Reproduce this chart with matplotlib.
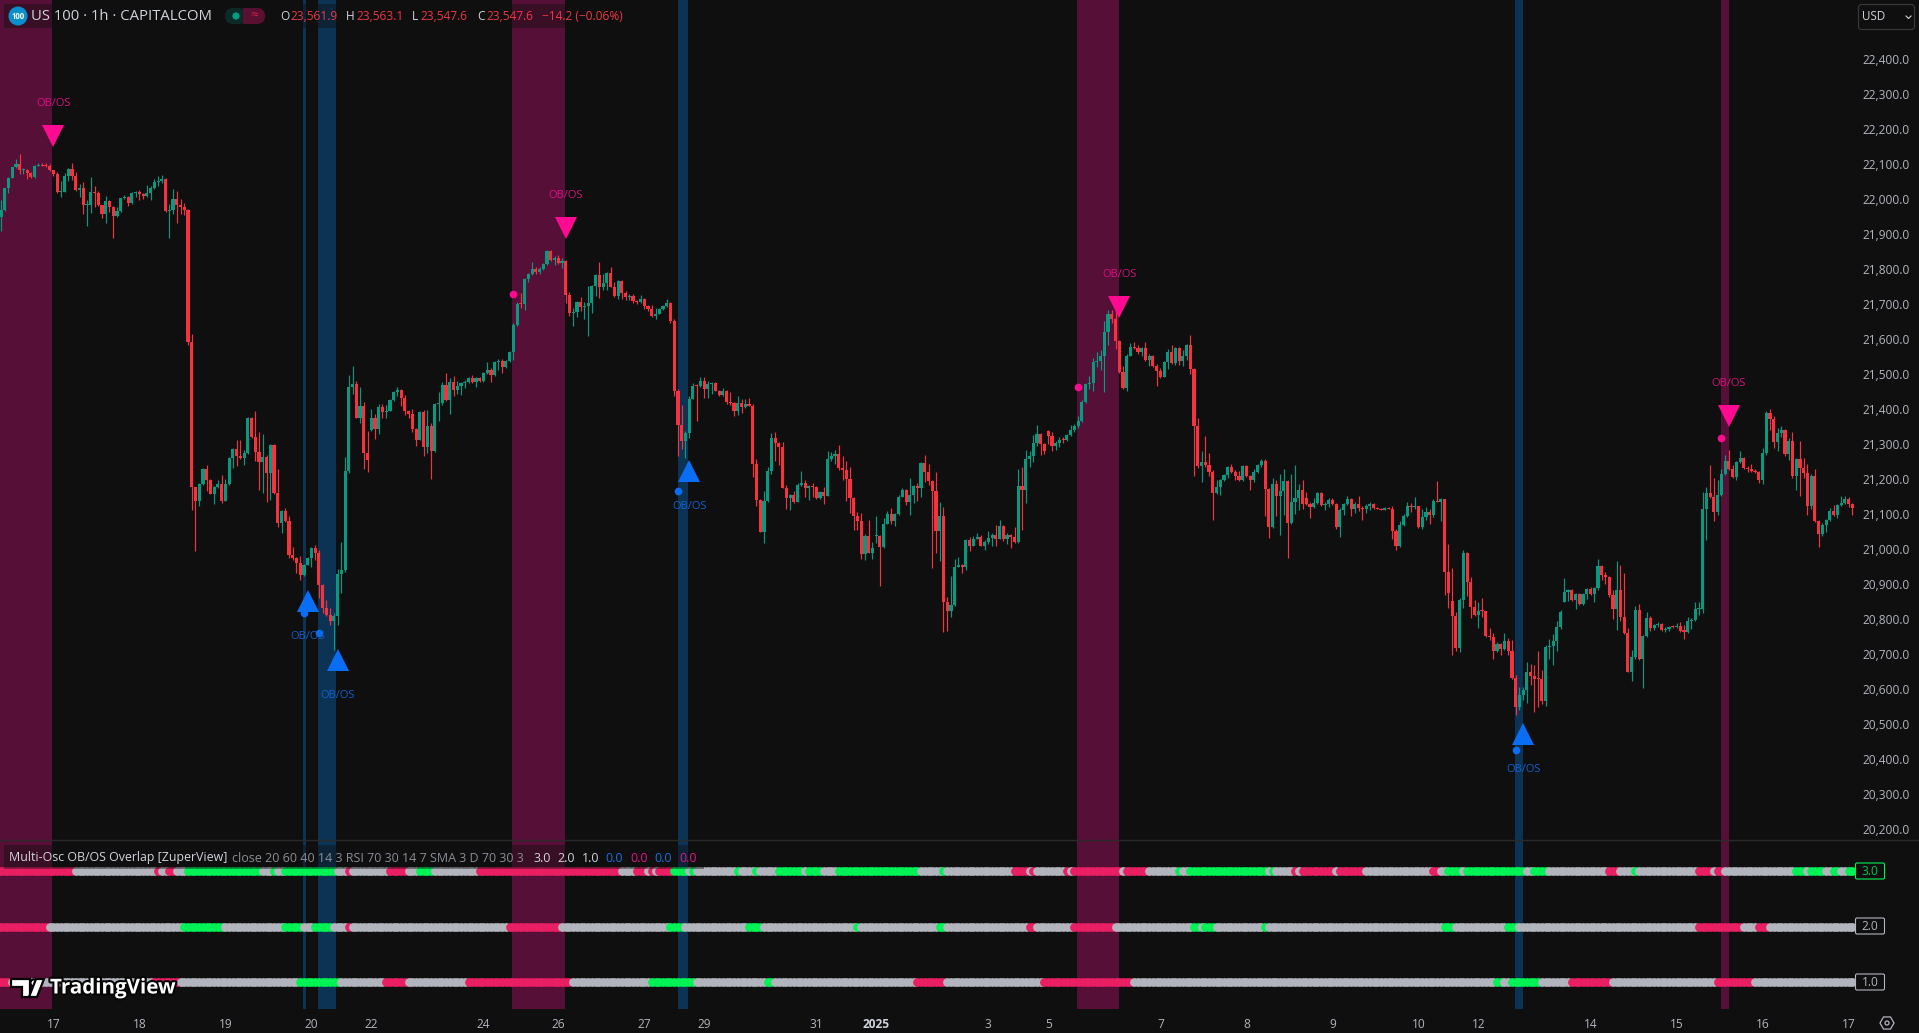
import matplotlib
matplotlib.use("Agg")
import matplotlib.pyplot as plt
from matplotlib.patches import Rectangle, Circle, FancyBboxPatch, Polygon, RegularPolygon
from matplotlib.transforms import ScaledTranslation
import matplotlib.patheffects as pe

closes = [
21971,22033,22064,22093,22102,22085,22087,22078,22065,22097,
22099,22097,22096,22085,22073,22022,22024,22068,22088,22068,
22028,22034,21985,21985,22022,22021,21985,21960,21997,21980,
21954,21968,22005,22008,21991,22020,22022,22017,22011,22020,
22034,22051,22053,22060,21968,21970,22002,21985,21980,21971,
21595,21179,21139,21189,21231,21200,21161,21180,21189,21141,
21189,21263,21289,21269,21262,21277,21378,21323,21281,21252,
21266,21221,21300,21163,21078,21112,21083,20986,20978,20964,
20929,20958,20978,21006,20992,20901,20835,20815,20798,20812,
20932,20944,21226,21466,21475,21378,21412,21278,21258,21378,
21346,21409,21395,21398,21429,21452,21458,21435,21398,21389,
21346,21315,21395,21295,21355,21283,21418,21420,21472,21429,
21480,21458,21469,21478,21480,21492,21480,21492,21483,21506,
21515,21500,21538,21540,21523,21540,21566,21643,21703,21702,
21775,21789,21803,21795,21803,21817,21855,21829,21834,21820,
21827,21729,21677,21679,21709,21695,21696,21706,21755,21786,
21752,21763,21792,21752,21726,21769,21735,21723,21725,21712,
21709,21717,21697,21689,21669,21675,21689,21697,21706,21655,
21455,21358,21312,21335,21432,21469,21468,21483,21460,21475,
21477,21455,21443,21455,21423,21420,21398,21420,21409,21418,
21412,21246,21143,21052,21140,21226,21320,21306,21295,21178,
21149,21158,21138,21186,21192,21178,21183,21181,21149,21166,
21155,21260,21269,21275,21235,21229,21203,21149,21098,21083,
20989,21041,20992,21006,21041,21009,21075,21103,21083,21103,
21152,21172,21138,21158,21183,21178,21249,21223,21198,21169,
21055,21098,20852,20826,20843,20952,20958,20952,21029,21012,
21032,21038,21012,21023,21035,21043,21032,21069,21032,21043,
21038,21023,21183,21172,21260,21269,21306,21332,21303,21283,
21326,21298,21306,21315,21314,21329,21343,21355,21369,21423,
21475,21477,21537,21540,21555,21623,21675,21660,21597,21509,
21463,21555,21580,21577,21566,21577,21543,21555,21526,21512,
21495,21537,21566,21535,21577,21540,21555,21586,21517,21355,
21240,21252,21243,21223,21163,21180,21200,21214,21237,21223,
21211,21200,21240,21211,21200,21223,21243,21254,21174,21066,
21188,21154,21168,21197,21077,21137,21148,21171,21131,21131,
21123,21134,21163,21128,21130,21143,21131,21066,21114,21131,
21145,21117,21131,21120,21118,21125,21131,21120,21118,21115,
21120,21118,21054,21011,21071,21097,21125,21124,21125,21066,
21094,21108,21100,21140,21138,21145,20937,20877,20811,20720,
20857,20991,20908,20837,20814,20826,20825,20754,20751,20711,
20731,20717,20740,20711,20634,20551,20586,20600,20651,20640,
20632,20630,20569,20723,20725,20740,20780,20823,20880,20886,
20857,20874,20846,20874,20889,20874,20891,20954,20929,20923,
20871,20832,20886,20809,20763,20652,20694,20829,20688,20754,
20806,20777,20786,20789,20772,20774,20780,20779,20783,20769,
20767,20797,20800,20832,20832,21117,21163,21151,21109,21157,
21217,21254,21231,21208,21251,21263,21234,21231,21226,21223,
21200,21277,21391,21374,21308,21334,21343,21274,21311,21211,
21260,21234,21220,21126,21211,21083,21046,21071,21086,21111,
21100,21128,21134,21146,21131,21120]

upper_wicks = [
30,2,2,2,16,28,5,2,2,2, 6,7,9,6,2,8,29,8,3,17, 11,11,17,14,43,17,6,2,14,2,
2,11,2,5,2,2,3,6,3,23, 5,9,15,11,2,18,30,23,17,11, 2,22,2,2,2,12,2,2,11,26,
13,2,2,25,46,8,2,2,74,57, 66,6,2,2,68,2,9,14,23,2, 20,2,2,2,9,9,2,23,20,8,
14,80,40,34,51,9,54,11,63,26, 11,9,9,17,2,2,9,2,9,2, 14,3,2,6,46,9,2,32,9,34,
11,17,14,2,6,2,9,2,2,2, 23,6,2,6,6,2,3,5,6,32, 2,2,20,6,6,2,2,2,7,9,
6,2,9,12,3,14,12,49,2,2, 37,26,2,17,14,2,2,6,7,6, 3,11,2,3,11,17,2,2,11,2,
6,6,57,6,9,9,6,11,11,9, 2,3,2,9,2,29,3,20,11,14, 17,6,14,2,29,11,14,17,3,14,
9,3,11,6,34,9,3,9,2,2, 14,23,11,11,26,34,26,34,3,11, 23,6,46,17,57,2,17,9,17,2,
6,6,2,49,2,9,2,23,23,2, 54,40,26,14,83,23,23,3,2,9, 9,11,6,6,20,6,29,17,2,6,
2,29,49,54,26,14,23,26,2,3, 3,11,6,9,9,2,14,6,14,6, 2,20,11,26,17,31,11,11,23,2,
17,6,11,14,9,3,17,6,2,6, 9,3,9,20,3,3,17,2,29,2, 23,31,74,34,6,20,2,2,2,9,
6,14,2,3,2,9,2,6,6,2, 17,11,49,34,2,80,94,17,29,17, 6,14,3,2,7,6,6,2,6,3,
9,3,6,23,5,6,6,3,2,2, 3,3,9,6,11,6,11,9,26,2, 23,14,9,6,57,3,2,80,94,11,
6,9,2,14,20,26,37,2,23,11, 6,2,23,9,31,9,23,9,29,23, 31,80,26,6,20,20,17,6,40,2,
2,2,3,2,2,6,2,20,2,9, 2,14,83,71,126,14,20,11,17,2, 17,6,3,6,3,6,2,7,9,11,
17,11,6,20,19,49,17,80,54,43, 14,17,31,11,2,20,2,6,14,6, 3,14,6,11,9,14,11,2,9,26,
3,51,29,26,6,20,2,6,2,9, 17,2,20,9,6,3]

lower_wicks = [
39,2,14,2,2,11,12,18,2,2, 1,1,1,2,5,2,13,2,15,11, 2,20,26,60,23,42,2,11,26,14,
63,2,2,2,8,2,11,17,8,2, 20,2,10,5,2,76,11,51,20,14, 8,64,143,14,2,31,2,31,2,6,
2,2,29,29,2,19,2,2,26,80, 88,83,77,2,11,29,2,9,6,31, 14,2,2,26,20,37,14,5,11,83,
26,54,6,6,20,2,14,46,34,2, 29,14,17,17,2,2,11,23,11,11, 9,17,2,26,17,80,2,49,6,2,
40,17,11,25,14,2,2,14,2,2, 2,20,2,23,17,3,2,23,2,11, 17,9,2,6,6,3,2,2,14,2,
14,23,9,36,12,12,36,85,29,29, 31,9,20,2,2,9,17,9,8,6, 6,2,9,6,3,9,2,2,2,6,
14,89,23,49,14,2,99,2,26,26, 29,2,2,2,6,6,14,11,17,2, 2,37,17,2,31,2,9,51,51,2,
31,34,3,2,2,26,34,29,2,3, 23,2,6,23,6,29,63,43,40,26, 14,17,2,17,20,111,2,2,9,14,
2,2,9,37,23,37,26,29,11,220, 63,86,86,57,17,2,2,17,9,14, 2,2,2,11,6,23,20,2,6,14,
31,2,2,114,37,23,17,9,31,9, 23,14,11,11,8,3,2,6,6,2, 2,16,23,14,26,103,37,11,23,2,
2,9,2,2,6,11,2,17,2,43, 3,2,20,3,6,11,14,11,14,145, 6,46,6,11,77,2,23,2,9,2,
11,3,2,2,29,6,2,6,77,31, 2,57,111,69,100,2,34,34,14,2, 31,3,2,2,15,6,2,6,29,14,
2,20,11,9,31,11,11,2,1,1, 1,1,23,11,2,2,2,16,6,2, 6,9,26,6,2,54,66,43,111,9,
11,23,40,31,2,37,16,2,9,23, 2,17,2,11,3,23,9,15,37,26, 94,80,9,14,34,54,29,6,2,26,
2,26,2,3,14,2,23,6,14,20, 6,29,60,11,2,2,26,6,2,82, 2,9,6,6,3,6,6,2,2,2,
20,3,23,2,18,11,89,2,26,9, 2,2,2,2,9,2,2,9,2,3, 9,11,6,31,17,26,11,6,17,6,
40,80,14,26,9,3,37,6,20,2, 3,9,2,2,9,20]

first_open = 21950
gap_opens = {99: 21343, 234: 21041, 280: 21340, 349: 21148, 388: 20854, 418: 20852}

price_ticks = list(range(20200, 22401, 100))

time_tick_bars = [14,37,60,83,99,129,149,172,188,218,234,264,280,310,333,356,379,395,425,448,471,494]
time_tick_labels = ["17","18","19","20","22","24","26","27","29","31","2025","3","5","7","8","9","10","12","14","15","16","17"]

pink_band_start = [-1, 136.7, 287.7, 460.0]
pink_band_end = [13.6, 150.9, 299.0, 462.0]
blue_band_start = [80.7, 84.8, 181.0, 404.8]
blue_band_end = [81.5, 89.6, 183.8, 407.0]

sell_bars = [14, 151, 299, 462]
sell_prices = [22183, 21920, 21694, 21383]
buy_bars = [82, 90, 184, 407]
buy_prices = [20854, 20686, 21226, 20474]
pink_dot_bars = [137, 288, 460]
pink_dot_prices = [21731, 21466, 21320]
blue_dot_bars = [81, 85, 181, 405]
blue_dot_prices = [20820, 20763, 21169, 20429]

# oscillator rows: (state, end bar)
row3_runs = [('p',20),('g',42),('p',43),('g',45),('p',47),('g',50),('u',70),('g',73),('u',74),('g',76),('u',90),('g',93),('p',94),('g',104),('p',109),('g',112),('u',116),('g',128),('p',166),('g',170),('p',173),('g',174),('p',175),('g',176),('p',180),('u',184),('g',185),('u',186),('g',197),('u',198),('g',202),('u',203),('g',208),('u',215),('g',216),('u',220),('g',224),('u',246),('g',252),('u',253),('g',271),('p',275),('g',276),('p',277),('g',285),('p',286),('g',287),('p',300),('g',301),('p',307),('g',315),('u',316),('g',318),('u',339),('g',340),('u',341),('g',346),('p',347),('g',348),('p',357),('g',358),('p',365),('g',383),('p',385),('g',387),('u',391),('g',392),('u',408),('g',410),('u',414),('g',430),('p',433),('g',437),('u',438),('g',454),('p',458),('g',459),('p',461),('g',480),('u',483),('g',484),('u',488),('g',490),('u',492),('g',494),('u',496)]
row2_runs = [('p',13),('g',49),('u',60),('g',76),('u',81),('g',84),('u',89),('g',93),('p',94),('g',136),('p',150),('g',179),('u',183),('g',200),('u',204),('g',229),('u',230),('g',251),('u',253),('g',275),('p',277),('g',287),('p',298),('g',319),('u',321),('g',322),('u',325),('g',338),('u',339),('g',386),('u',389),('g',403),('u',406),('g',454),('p',466),('g',470),('p',473),('g',496)]
row1_runs = [('p',3),('g',41),('p',48),('g',80),('u',91),('g',103),('p',109),('g',125),('p',153),('g',174),('u',186),('g',205),('u',207),('g',245),('p',253),('g',279),('p',303),('g',400),('u',402),('g',404),('u',412),('g',420),('p',431),('g',459),('p',469),('g',496)]
row_levels = [3.0, 2.0, 1.0]

assert len(closes) == len(upper_wicks) == len(lower_wicks), (len(closes), len(upper_wicks), len(lower_wicks))

BG = '#0F0F0F'
UP = '#089981'
DOWN = '#F7323F'
PINK_BAND = '#560F36'
BLUE_BAND = '#0D3354'
PINK = '#FF0A90'
BLUE = '#0A6EF5'
GREY = '#B2B5BE'
TXT = '#D1D4DC'
STATE = {'p': '#E91E63', 'g': GREY, 'u': '#00F255'}
FONT = 'Open Sans'
W, H = 1919, 1033
STEP = 3.74
X0 = 1.0
plt.rcParams['font.family'] = [FONT, 'DejaVu Sans']

fig = plt.figure(figsize=(W / 100, H / 100), dpi=100, facecolor=BG)
xlim = (-X0 / STEP, (W - X0) / STEP)

# ---- price pane
ax = fig.add_axes([0, (H - 840) / H, 1, 840 / H], facecolor=BG)
ax.set_xlim(*xlim)
ax.set_ylim(22400 - (840 - 60) / 0.35, 22400 + 60 / 0.35)
for s in ax.spines.values():
    s.set_visible(False)
for a, b in zip(pink_band_start, pink_band_end):
    ax.axvspan(a, b, color=PINK_BAND, lw=0, zorder=1)
for a, b in zip(blue_band_start, blue_band_end):
    ax.axvspan(a, b, color=BLUE_BAND, lw=0, zorder=1)

prev = first_open
for i, (c, uw, lw_) in enumerate(zip(closes, upper_wicks, lower_wicks)):
    o = gap_opens.get(i, prev)
    col = UP if c >= o else DOWN
    top, bot = max(o, c), min(o, c)
    ax.vlines(i, bot - lw_, top + uw, color=col, lw=0.85, zorder=3)
    h = max(top - bot, 3)
    ax.bar(i, h, bottom=bot, width=0.84, color=col, lw=0, zorder=4, antialiased=False)
    prev = c

ax.plot(sell_bars, sell_prices, 'v', color=PINK, ms=16.5, mew=0, zorder=6)
ax.plot(buy_bars, buy_prices, '^', color=BLUE, ms=16.5, mew=0, zorder=6)
ax.plot(pink_dot_bars, pink_dot_prices, 'o', color=PINK, ms=5.5, mew=0, zorder=6)
ax.plot(blue_dot_bars, blue_dot_prices, 'o', color=BLUE, ms=5.5, mew=0, zorder=5)
for b, p in zip(sell_bars, sell_prices):
    ax.annotate('OB/OS', (b, p), xytext=(0, 23.6), textcoords='offset points', ha='center', va='center',
                color='#D8127F', fontsize=8, zorder=7)
for b, p in zip(buy_bars, buy_prices):
    ax.annotate('OB/OS', (b, p), xytext=(0, -25.8), textcoords='offset points', ha='center', va='center',
                color='#0F62D0', fontsize=8, zorder=7)

ax.set_xticks([])
ax.yaxis.tick_right()
ax.set_yticks(price_ticks)
ax.set_yticklabels([f'{v:,.1f}' for v in price_ticks], ha='right')
ax.tick_params(axis='y', length=0, pad=-6.5, labelsize=8.6, labelcolor='#B2B5BE')
for lab in ax.get_yticklabels():
    lab.set_transform(lab.get_transform() + ScaledTranslation(0, 1.0 / 100, fig.dpi_scale_trans))

# ---- oscillator pane
ax2 = fig.add_axes([0, (H - 1009) / H, 1, (1009 - 840) / H], facecolor=BG)
ax2.set_xlim(*xlim)
ax2.set_ylim(3 - (1009 - 871) / 55.5, 3 + (871 - 840) / 55.5)
for s in ax2.spines.values():
    s.set_visible(False)
for a, b in zip(pink_band_start, pink_band_end):
    ax2.axvspan(a, b, color=PINK_BAND, lw=0, zorder=1)
for a, b in zip(blue_band_start, blue_band_end):
    ax2.axvspan(a, b, color=BLUE_BAND, lw=0, zorder=1)
for level, runs in zip(row_levels, [row3_runs, row2_runs, row1_runs]):
    start = 0
    for state, end in runs:
        xs = list(range(start, end))
        ax2.scatter(xs, [level] * len(xs), s=40, color=STATE[state], lw=0, zorder=3)
        start = end
ax2.set_yticks([])
ax2.set_xticks(time_tick_bars)
ax2.set_xticklabels(time_tick_labels)
ax2.tick_params(axis='x', length=0, pad=6.5, labelsize=8.6, labelcolor='#B2B5BE')
for t in ax2.get_xticklabels():
    if t.get_text() == '2025':
        t.set_fontweight('bold')
        t.set_color(TXT)
ax2.set_xlim(*xlim)

# ---- overlay in pixel units for the TradingView chrome
ov = fig.add_axes([0, 0, 1, 1], facecolor='none')
ov.set_xlim(0, W)
ov.set_ylim(H, 0)
ov.axis('off')
ov.plot([0, W], [840, 840], color='#2A2A2A', lw=1)

ov.add_patch(Rectangle((4, 4), 626, 24, color=BG, alpha=0.4, lw=0))
ov.add_patch(Rectangle((4, 845), 700, 24, color=BG, alpha=0.4, lw=0))

ov.add_patch(Circle((18, 16), 9.5, color='#0A8FCC', lw=0))
ov.text(18, 16.5, '100', color='white', fontsize=5.6, ha='center', va='center', fontweight='bold')
ov.text(31, 16, 'US 100 · 1h · CAPITALCOM', color=TXT, fontsize=10.7, ha='left', va='center')
ov.add_patch(FancyBboxPatch((225, 8), 22, 16, boxstyle='round,pad=0,rounding_size=8', color='#0C2B27', lw=0))
ov.add_patch(FancyBboxPatch((243, 8), 22, 16, boxstyle='round,pad=0,rounding_size=8', color='#5A1030', lw=0))
ov.add_patch(Rectangle((243, 8), 10, 16, color='#5A1030', lw=0))
ov.add_patch(Circle((236, 16), 3.6, color='#089981', lw=0))
ov.text(254, 16, '≈', color='#D0204F', fontsize=10, ha='center', va='center')

RED = '#F23645'
for x, t, c in [(280, 'O', TXT), (290, '23,561.9', RED), (346, 'H', TXT), (356, '23,563.1', RED),
                (412, 'L', TXT), (420, '23,547.6', RED), (477, 'C', TXT), (486, '23,547.6', RED),
                (542, '−14.2 (−0.06%)', RED)]:
    ov.text(x, 16, t, color=c, fontsize=8.6, ha='left', va='center')

ov.text(9, 858, 'Multi-Osc OB/OS Overlap [ZuperView]', color=TXT, fontsize=8.9, ha='left', va='center')
ov.text(232, 858, 'close 20 60 40 14 3 RSI 70 30 14 7 SMA 3 D 70 30 3', color='#8A8D96', fontsize=9, ha='left', va='center')
for x, t, c in [(533, '3.0', TXT), (557, '2.0', TXT), (582, '1.0', TXT), (605, '0.0', '#1B6FE0'),
                (630, '0.0', '#E0148A'), (654, '0.0', '#1B6FE0'), (679, '0.0', '#E0148A')]:
    ov.text(x, 858, t, color=c, fontsize=9, ha='left', va='center')

for y, t, c, ec in [(871, '3.0', '#00C853', '#00F255'), (926, '2.0', GREY, GREY), (982, '1.0', GREY, GREY)]:
    ov.add_patch(FancyBboxPatch((1855.5, y - 8), 29, 16, boxstyle='round,pad=0,rounding_size=1.5',
                                fc=BG, ec=ec, lw=0.8))
    ov.text(1870, y + 0.5, t, color=c, fontsize=8.6, ha='center', va='center')

ov.add_patch(FancyBboxPatch((1858.5, 4.5), 56, 25, boxstyle='round,pad=0,rounding_size=3', fc=BG, ec='#3A3A3A', lw=0.8))
ov.text(1862, 16.5, 'USD', color=TXT, fontsize=8.4, ha='left', va='center')
ov.plot([1906, 1908.5, 1911], [16, 18.5, 16], color=TXT, lw=0.8)

ov.add_patch(RegularPolygon((1887, 1023), 6, radius=7, orientation=0.5236, fc='none', ec=GREY, lw=0.9))
ov.add_patch(Circle((1887, 1023), 2, fc='none', ec=GREY, lw=0.9))

stroke = [pe.withStroke(linewidth=3, foreground='#050505')]
logo_parts = [
    Polygon([(11, 979), (30, 979), (30, 997), (22, 997), (22, 987), (11, 987)], closed=True),
    Circle((34, 983), 3.6),
    Polygon([(37, 997), (44, 979), (36, 979), (29, 997)], closed=True),
]
for part in logo_parts:
    part.set(fc='white', ec='#050505', lw=1.6)
    ov.add_patch(part)
ov.text(50, 988, 'TradingView', color='white', fontsize=14.8, ha='left', va='center',
        fontweight='bold', path_effects=stroke, family='Open Sans')

fig.savefig('out.png', dpi=100, facecolor=BG)
